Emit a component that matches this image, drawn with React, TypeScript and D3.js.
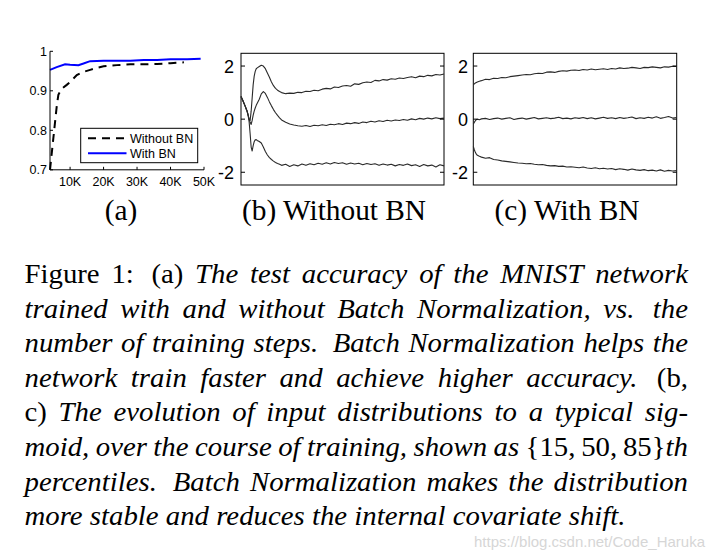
import React, { useMemo } from "react";
import * as d3 from "d3";

const W = 710;
const H = 552;

// ---------- Panel (a): test accuracy ----------
const accTicksX = [10000, 20000, 30000, 40000, 50000];
const accTickLabelsX = ["10K", "20K", "30K", "40K", "50K"];
const accTicksY = [0.7, 0.8, 0.9, 1];
const accTickLabelsY = ["0.7", "0.8", "0.9", "1"];

const stepsWithoutBN = [4000, 4500, 5000, 5500, 6000, 6500, 7500, 9000, 10000, 12000, 14000, 16000, 18000, 20000, 24000, 28000, 32000, 36000, 40000, 44000];
const accWithoutBN = [0.70, 0.74, 0.78, 0.82, 0.86, 0.89, 0.905, 0.915, 0.922, 0.94, 0.948, 0.953, 0.958, 0.962, 0.965, 0.967, 0.967, 0.968, 0.970, 0.972];

const stepsWithBN = [4000, 6000, 8500, 10000, 12500, 14000, 16000, 20000, 25000, 28000, 32000, 36000, 40000, 45000, 49000];
const accWithBN = [0.953, 0.960, 0.967, 0.966, 0.965, 0.969, 0.975, 0.976, 0.976, 0.976, 0.978, 0.978, 0.980, 0.980, 0.981];

const legendLabels = ["Without BN", "With BN"];

// ---------- Panels (b),(c): percentiles {15,50,85} ----------
const distTicks = [-2, 0, 2];
const distTickLabels = ["-2", "0", "2"];

const stepsB = [0, 1, 2, 3, 3.5, 4, 4.5, 5, 5.5, 6, 6.5, 7, 7.5, 8, 9, 10, 11, 12, 13, 14, 15, 16, 17, 18, 19,
  20, 22, 24, 26, 28, 30, 32, 34, 36, 38, 40, 42, 44, 46, 48, 50, 52, 54, 56, 58, 60, 62, 64, 66, 68, 70, 72, 74, 76, 78, 80, 82, 84, 86, 88, 90, 92, 94, 96, 98, 100];
const p85WithoutBN = [0.85, 0.68, 0.5, 0.3, 0.15, 0.0, -0.05, 0.3, 0.8, 1.3, 1.62, 1.8, 1.9, 1.93, 1.98, 2.03, 2.0, 1.9, 1.74, 1.58, 1.4, 1.26, 1.16, 1.09, 1.04,
  1.00, 0.96, 0.98, 0.97, 1.01, 1.00, 1.05, 1.04, 1.09, 1.07, 1.13, 1.16, 1.14, 1.21, 1.19, 1.25, 1.27, 1.24, 1.33, 1.31, 1.37, 1.40, 1.38, 1.46, 1.44, 1.49, 1.47, 1.52, 1.50, 1.55, 1.53, 1.57, 1.60, 1.56, 1.62, 1.60, 1.65, 1.63, 1.68, 1.66, 1.70];
const p50WithoutBN = [0.85, 0.68, 0.5, 0.3, 0.15, 0.0, -0.12, -0.2, -0.05, 0.15, 0.3, 0.42, 0.52, 0.6, 0.75, 0.95, 1.04, 0.97, 0.82, 0.65, 0.5, 0.36, 0.24, 0.14, 0.05,
  -0.03, -0.12, -0.18, -0.22, -0.25, -0.27, -0.24, -0.28, -0.23, -0.25, -0.21, -0.24, -0.19, -0.21, -0.17, -0.20, -0.15, -0.17, -0.13, -0.16, -0.11, -0.13, -0.08, -0.11, -0.06, -0.09, -0.04, -0.07, -0.03, -0.05, -0.01, -0.04, 0.01, -0.02, 0.03, 0.0, 0.04, 0.01, 0.05, 0.02, 0.04];
const p15WithoutBN = [0.85, 0.68, 0.5, 0.3, 0.15, -0.1, -0.55, -1.05, -1.2, -1.0, -0.85, -0.78, -0.77, -0.8, -0.84, -0.9, -1.05, -1.22, -1.35, -1.45, -1.52, -1.58, -1.63, -1.67, -1.7,
  -1.74, -1.70, -1.78, -1.72, -1.76, -1.69, -1.74, -1.68, -1.72, -1.66, -1.70, -1.64, -1.69, -1.63, -1.67, -1.64, -1.70, -1.65, -1.69, -1.66, -1.72, -1.67, -1.71, -1.68, -1.74, -1.69, -1.73, -1.70, -1.76, -1.71, -1.74, -1.69, -1.75, -1.72, -1.78, -1.71, -1.76, -1.73, -1.80, -1.72, -1.76];

const stepsC = [0, 0.5, 1, 1.5, 2, 3, 4, 6, 8, 10, 12, 14, 16, 18, 20, 22, 24, 26, 28, 30, 32, 34, 36, 38, 40, 42, 44, 46, 48, 50,
  52, 54, 56, 58, 60, 62, 64, 66, 68, 70, 72, 74, 76, 78, 80, 82, 84, 86, 88, 90, 92, 94, 96, 98, 100];
const p85WithBN = [1.29, 1.33, 1.36, 1.38, 1.40, 1.43, 1.45, 1.50, 1.49, 1.54, 1.53, 1.57, 1.56, 1.60, 1.62, 1.64, 1.66, 1.68, 1.67, 1.71, 1.73, 1.72, 1.77, 1.78, 1.76, 1.80, 1.82, 1.81, 1.84, 1.85,
  1.83, 1.87, 1.85, 1.89, 1.86, 1.88, 1.90, 1.87, 1.91, 1.89, 1.93, 1.91, 1.92, 1.95, 1.93, 1.91, 1.95, 1.94, 1.97, 1.95, 1.93, 1.97, 1.96, 1.99, 1.98];
const p50WithBN = [-0.19, -0.12, -0.06, -0.02, 0.0, -0.02, 0.01, 0.03, -0.01, 0.02, 0.04, 0.0, 0.03, 0.05, -0.01, 0.02, 0.04, 0.0, 0.03, 0.06, 0.01, 0.03, 0.05, 0.02, 0.04, 0.07, 0.02, 0.04, 0.01, 0.05,
  0.03, 0.06, 0.02, 0.05, 0.01, 0.04, 0.07, 0.03, 0.05, 0.02, 0.06, 0.03, 0.05, 0.08, 0.02, 0.05, 0.03, 0.07, 0.04, 0.09, 0.03, 0.06, 0.10, 0.04, 0.06];
const p15WithBN = [-1.03, -1.15, -1.25, -1.32, -1.36, -1.40, -1.43, -1.47, -1.45, -1.52, -1.54, -1.57, -1.59, -1.61, -1.63, -1.65, -1.66, -1.68, -1.67, -1.70, -1.72, -1.71, -1.74, -1.76, -1.75, -1.78, -1.77, -1.80, -1.79, -1.81,
  -1.83, -1.80, -1.84, -1.86, -1.83, -1.87, -1.85, -1.88, -1.86, -1.90, -1.87, -1.89, -1.92, -1.88, -1.91, -1.93, -1.90, -1.94, -1.92, -1.95, -1.91, -1.96, -1.93, -1.95, -1.94];

const subtitles = ["(a)", "(b) Without BN", "(c) With BN"];
const subtitleCenters = [121, 334, 567];

// ---------- Caption ----------
type Seg = [string, boolean]; // [text, italic]
const captionLines: Seg[][] = [
  [["Figure 1: (a) ", false], ["The test accuracy of the MNIST network", true]],
  [["trained with and without Batch Normalization, vs. the", true]],
  [["number of training steps. Batch Normalization helps the", true]],
  [["network train faster and achieve higher accuracy. ", true], ["(b,", false]],
  [["c) ", false], ["The evolution of input distributions to a typical sig-", true]],
  [["moid, over the course of training, shown as ", true], ["{15,\u200950,\u200985}", false], ["th", true]],
  [["percentiles. Batch Normalization makes the distribution", true]],
  [["more stable and reduces the internal covariate shift.", true]],
];
const watermark = "https://blog.csdn.net/Code_Haruka";

const SERIF = '"Liberation Serif", "Times New Roman", serif';
const SANS = '"Liberation Sans", Arial, sans-serif';

const CAP_SIZE = 27.5;
const CAP_LEFT = 24.5;
const CAP_RIGHT = 688;
const CAP_LAST_WIDTH = 601;

type Run = { t: string; it: boolean };
type Word = { runs: Run[]; w: number; x: number };

function layoutCaption() {
  const ctx = document.createElement("canvas").getContext("2d")!;
  const meas = (t: string, it: boolean) => {
    ctx.font = `${it ? "italic " : ""}${CAP_SIZE}px ${SERIF}`;
    return ctx.measureText(t).width;
  };
  const lines = captionLines.map((segs) => {
    const words: Word[] = [];
    let cur: Word | null = null;
    for (const [txt, it] of segs) {
      for (const ch of txt) {
        if (ch === " ") { cur = null; continue; }
        if (!cur) { cur = { runs: [], w: 0, x: 0 }; words.push(cur); }
        const last = cur.runs[cur.runs.length - 1];
        if (last && last.it === it) last.t += ch; else cur.runs.push({ t: ch, it });
      }
    }
    words.forEach((w) => { w.w = w.runs.reduce((s, r) => s + meas(r.t, r.it), 0); });
    return words;
  });
  const space = CAP_SIZE * 0.25;
  const gapsOf = (words: Word[]) => words.slice(0, -1).map((w) => {
    const lastRun = w.runs[w.runs.length - 1].t;
    const end = lastRun[lastRun.length - 1];
    return space + (end === "." || end === ":" ? CAP_SIZE * 0.2 : 0);
  });
  const lastWords = lines[lines.length - 1];
  const lastNatural = lastWords.reduce((s, w) => s + w.w, 0) + gapsOf(lastWords).reduce((s, g) => s + g, 0);
  const sx = CAP_LAST_WIDTH / lastNatural;
  lines.forEach((words, li) => {
    const gaps = gapsOf(words).map((g) => g * sx);
    words.forEach((w) => { w.w *= sx; });
    const natural = words.reduce((s, w) => s + w.w, 0) + gaps.reduce((s, g) => s + g, 0);
    const justify = li < lines.length - 1;
    const extra = justify && gaps.length ? (CAP_RIGHT - CAP_LEFT - natural) / gaps.length : 0;
    let x = CAP_LEFT;
    words.forEach((w, i) => {
      w.x = x;
      x += w.w + (i < gaps.length ? gaps[i] + extra : 0);
    });
  });
  return { lines, sx };
}

export default function App() {
  // Panel (a)
  const xA = d3.scaleLinear().domain([4000, 50000]).range([50, 204]);
  const yA = d3.scaleLinear().domain([0.7, 1]).range([169.8, 51.3]);
  const pathA = (xs: number[], ys: number[]) =>
    d3.line<number>().x((d) => xA(d)).y((_, i) => yA(ys[i]))(xs) as string;

  // Panels (b),(c)
  const yD = d3.scaleLinear().domain([-2.48, 2.48]).range([185, 53.3]);
  const xB = d3.scaleLinear().domain([0, 100]).range([241, 444]);
  const xC = d3.scaleLinear().domain([0, 100]).range([473.3, 676.7]);
  const pathD = (xs: any, xsArr: number[], ys: number[]) =>
    d3.line<number>().x((d) => xs(d)).y((_, i) => yD(ys[i]))(xsArr) as string;

  const caption = useMemo(() => layoutCaption(), []);

  const distPanel = (xs: any, steps: number[], series: number[][], labelRight: number) => {
    const [x0, x1] = xs.range();
    return (
      <g>
        <rect x={x0} y={yD(2.48)} width={x1 - x0} height={yD(-2.48) - yD(2.48)} fill="white" stroke="black" strokeWidth={1} />
        {series.map((ys, k) => (
          <path key={k} d={pathD(xs, steps, ys)} fill="none" stroke="#2a2a2a" strokeWidth={1.1} strokeLinejoin="round" />
        ))}
        {distTicks.map((t, i) => (
          <g key={t}>
            <line x1={x0} x2={x0 + 4} y1={yD(t)} y2={yD(t)} stroke="black" strokeWidth={1} />
            <line x1={x1} x2={x1 - 4} y1={yD(t)} y2={yD(t)} stroke="black" strokeWidth={1} />
            <text x={labelRight} y={yD(t)} dy="0.36em" textAnchor="end" fontFamily={SANS} fontSize={18} fill="black">
              {distTickLabels[i]}
            </text>
          </g>
        ))}
      </g>
    );
  };

  return (
    <svg width={W} height={H} viewBox={`0 0 ${W} ${H}`} style={{ display: "block", position: "absolute", left: 0, top: 0, background: "white" }}>
      <rect x={0} y={0} width={W} height={H} fill="white" />

      {/* Panel (a) */}
      <g>
        <path d={pathA(stepsWithoutBN, accWithoutBN)} fill="none" stroke="black" strokeWidth={2} strokeDasharray="8,6" />
        <path d={pathA(stepsWithBN, accWithBN)} fill="none" stroke="#0000ff" strokeWidth={2} />
        <line x1={xA(4000)} x2={xA(4000)} y1={yA(0.7)} y2={yA(1)} stroke="black" strokeWidth={1} />
        <line x1={xA(4000)} x2={xA(50000)} y1={yA(0.7)} y2={yA(0.7)} stroke="black" strokeWidth={1} />
        {accTicksY.map((t, i) => (
          <g key={t}>
            <line x1={xA(4000)} x2={xA(4000) + 3} y1={yA(t)} y2={yA(t)} stroke="black" />
            <text x={47} y={yA(t)} dy="0.36em" textAnchor="end" fontFamily={SANS} fontSize={12.5} fill="black">
              {accTickLabelsY[i]}
            </text>
          </g>
        ))}
        {accTicksX.map((t, i) => (
          <g key={t}>
            <line x1={xA(t)} x2={xA(t)} y1={yA(0.7)} y2={yA(0.7) - 3} stroke="black" />
            <text x={xA(t)} y={186} textAnchor="middle" fontFamily={SANS} fontSize={12.5} fill="black">
              {accTickLabelsX[i]}
            </text>
          </g>
        ))}
        {/* legend */}
        <rect x={80.7} y={128.3} width={117} height={34.4} fill="white" stroke="black" strokeWidth={1} />
        <line x1={88} x2={126.5} y1={138.3} y2={138.3} stroke="black" strokeWidth={2} strokeDasharray="8,6" />
        <line x1={88} x2={126.5} y1={153.3} y2={153.3} stroke="#0000ff" strokeWidth={2} />
        <text x={130} y={138.3} dy="0.36em" fontFamily={SANS} fontSize={12.5} fill="black">{legendLabels[0]}</text>
        <text x={130} y={153.3} dy="0.36em" fontFamily={SANS} fontSize={12.5} fill="black">{legendLabels[1]}</text>
      </g>

      {/* Panel (b) */}
      {distPanel(xB, stepsB, [p85WithoutBN, p50WithoutBN, p15WithoutBN], 234)}
      {/* Panel (c) */}
      {distPanel(xC, stepsC, [p85WithBN, p50WithBN, p15WithBN], 468)}

      {/* subtitles */}
      {subtitles.map((s, i) => (
        <text key={s} transform={`translate(${subtitleCenters[i]},220) scale(1.03,1)`} textAnchor="middle" fontFamily={SERIF} fontSize={28.5} fill="black">{s}</text>
      ))}

      {/* caption */}
      {caption.lines.map((words, li) => (
        <g key={li}>
          {words.map((w, wi) => (
            <text key={wi} transform={`translate(${w.x},${283 + li * 34.6}) scale(${caption.sx},1)`} fontFamily={SERIF} fontSize={CAP_SIZE} fill="black">
              {w.runs.map((r, ri) => (
                <tspan key={ri} fontStyle={r.it ? "italic" : "normal"}>{r.t}</tspan>
              ))}
            </text>
          ))}
        </g>
      ))}

      <text x={705} y={547} textAnchor="end" fontFamily={SANS} fontSize={15} fill="#d6d6d6">{watermark}</text>
    </svg>
  );
}
